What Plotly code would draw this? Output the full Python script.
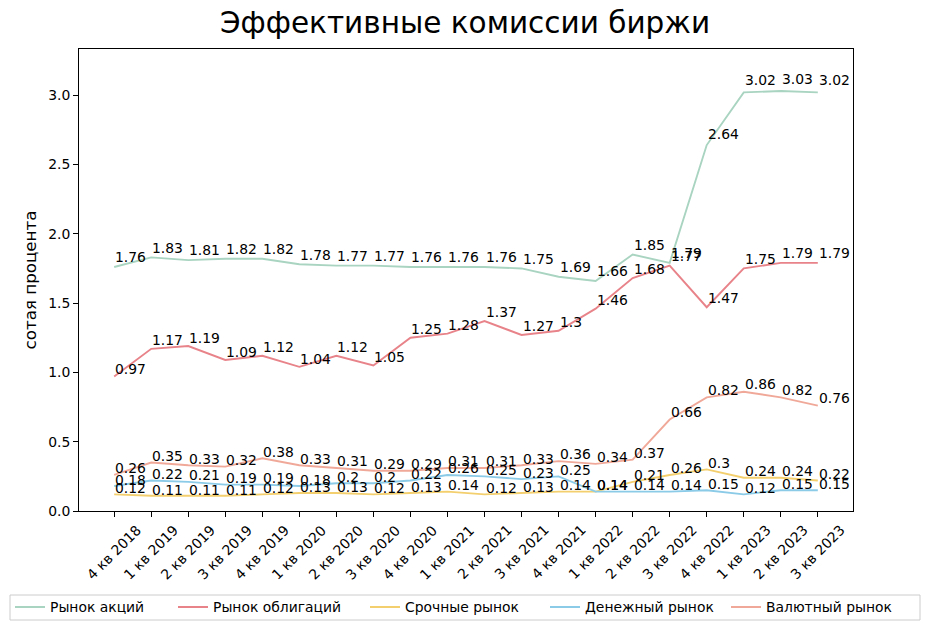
import plotly.graph_objects as go

quarters = ["4 кв 2018", "1 кв 2019", "2 кв 2019", "3 кв 2019", "4 кв 2019",
            "1 кв 2020", "2 кв 2020", "3 кв 2020", "4 кв 2020",
            "1 кв 2021", "2 кв 2021", "3 кв 2021", "4 кв 2021",
            "1 кв 2022", "2 кв 2022", "3 кв 2022", "4 кв 2022",
            "1 кв 2023", "2 кв 2023", "3 кв 2023"]

stocks = [1.76, 1.83, 1.81, 1.82, 1.82, 1.78, 1.77, 1.77, 1.76, 1.76,
          1.76, 1.75, 1.69, 1.66, 1.85, 1.79, 2.64, 3.02, 3.03, 3.02]
bonds = [0.97, 1.17, 1.19, 1.09, 1.12, 1.04, 1.12, 1.05, 1.25, 1.28,
         1.37, 1.27, 1.3, 1.46, 1.68, 1.77, 1.47, 1.75, 1.79, 1.79]
derivatives = [0.12, 0.11, 0.11, 0.11, 0.12, 0.13, 0.13, 0.12, 0.13, 0.14,
               0.12, 0.13, 0.14, 0.14, 0.21, 0.26, 0.3, 0.24, 0.24, 0.22]
money = [0.18, 0.22, 0.21, 0.19, 0.19, 0.18, 0.2, 0.2, 0.22, 0.26,
         0.25, 0.23, 0.25, 0.14, 0.14, 0.14, 0.15, 0.12, 0.15, 0.15]
fx = [0.26, 0.35, 0.33, 0.32, 0.38, 0.33, 0.31, 0.29, 0.29, 0.31,
      0.31, 0.33, 0.36, 0.34, 0.37, 0.66, 0.82, 0.86, 0.82, 0.76]

series_names = ["Рынок акций", "Рынок облигаций", "Срочные рынок",
                "Денежный рынок", "Валютный рынок"]
series_values = [stocks, bonds, derivatives, money, fx]
series_colors = ["#a9d4c1", "#e8838a", "#f3cf6e", "#8ccbe8", "#f0a999"]

# The page body has an 8px margin; figure coords = page coords - 8
OFF = 8
W, H = 914, 614
ML, MR, MT, MB = 79 - OFF, 930 - 853 - OFF, 49 - OFF, 630 - 511 - OFF
PW, PH = W - ML - MR, H - MT - MB


def px_x(p):
    """page pixel x -> paper fraction"""
    return (p - OFF - ML) / PW


def px_y(p):
    """page pixel y -> paper fraction"""
    return (H - MB - (p - OFF)) / PH


legend_line_starts = [17, 180, 372, 552, 733]
legend_center_y = 607.5

FONT = "DejaVu Sans"
fig = go.Figure()
annotations = []
xs = list(range(len(quarters)))
legend_ids = ["legend", "legend2", "legend3", "legend4", "legend5"]
for k, (name, vals, color) in enumerate(zip(series_names, series_values, series_colors)):
    fig.add_trace(go.Scatter(x=xs, y=vals, mode="lines", name=name,
                             legend=legend_ids[k],
                             line=dict(color=color, width=1.9)))
    for i, v in zip(xs, vals):
        annotations.append(dict(x=i, y=v * 1.015, xref="x", yref="y", text=f"{v:g}",
                                showarrow=False, xanchor="left", yanchor="bottom",
                                xshift=-1, yshift=-4,
                                font=dict(family=FONT, size=13.9, color="black")))

# rotated category labels, centred under each tick (as in the reference)
for i, q in zip(xs, quarters):
    annotations.append(dict(x=i, y=0, xref="x", yref="paper", text=q,
                            showarrow=False, textangle=-45,
                            xanchor="center", yanchor="top", yshift=-8,
                            font=dict(family=FONT, size=13.9, color="black")))

legend_layouts = {}
for k, lid in enumerate(legend_ids):
    legend_layouts[lid] = dict(
        orientation="h", x=px_x(legend_line_starts[k] - 7), xanchor="left",
        y=px_y(legend_center_y), yanchor="middle",
        bgcolor="rgba(0,0,0,0)", borderwidth=0,
        font=dict(family=FONT, size=13.9, color="black"))

fig.update_layout(
    width=W, height=H,
    margin=dict(l=ML, r=MR, t=MT, b=MB, autoexpand=False),
    paper_bgcolor="white", plot_bgcolor="white",
    title=dict(text="Эффективные комиссии биржи", x=(465 - OFF) / W, xanchor="center",
               y=1 - (23 - OFF) / H, yanchor="middle",
               font=dict(family=FONT, size=29.5, color="black")),
    font=dict(family=FONT, size=13.9, color="black"),
    annotations=annotations,
    showlegend=True,
    shapes=[dict(type="rect", xref="paper", yref="paper",
                 x0=px_x(10), x1=px_x(920), y0=px_y(595), y1=px_y(620),
                 line=dict(color="#cccccc", width=1), fillcolor="rgba(0,0,0,0)",
                 layer="below")],
    **legend_layouts,
)
fig.update_xaxes(range=[-0.95, 19.95], tickmode="array", tickvals=xs, ticktext=quarters,
                 showticklabels=False,
                 showline=True, linecolor="black", linewidth=1, mirror=True,
                 ticks="outside", ticklen=5, tickcolor="black", showgrid=False, zeroline=False,
                 automargin=False)
fig.update_yaxes(range=[0, 3.333], tickmode="array",
                 tickvals=[0, 0.5, 1.0, 1.5, 2.0, 2.5, 3.0],
                 ticktext=["0.0", "0.5", "1.0", "1.5", "2.0", "2.5", "3.0"],
                 showline=True, linecolor="black", linewidth=1, mirror=True,
                 ticks="outside", ticklen=5, tickcolor="black", showgrid=False, zeroline=False,
                 automargin=False,
                 title=dict(text="сотая процента", font=dict(family=FONT, size=16.7), standoff=7),
                 tickfont=dict(family=FONT, size=13.9))

fig.write_html("out.html")
